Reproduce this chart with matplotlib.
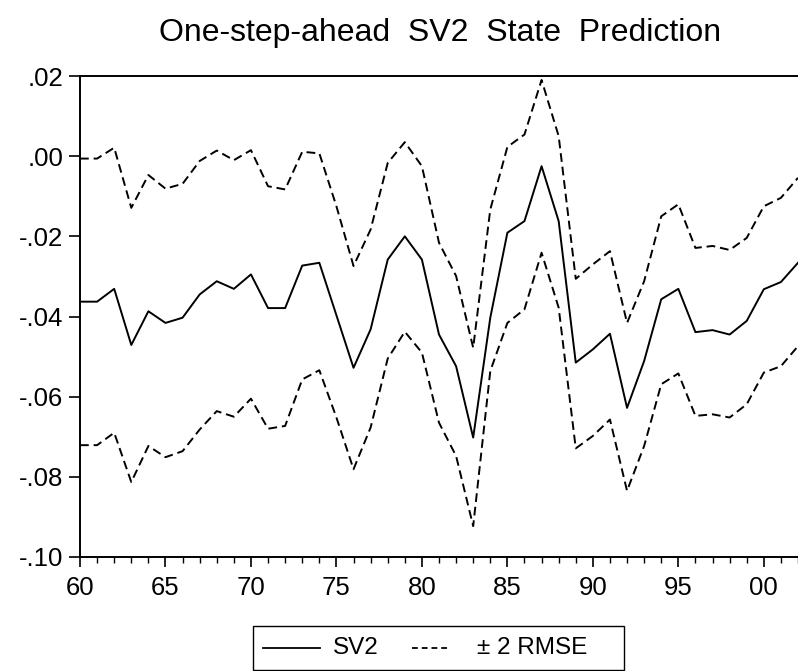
import numpy as np
import matplotlib
matplotlib.use("Agg")
import matplotlib.pyplot as plt
from matplotlib.lines import Line2D
from matplotlib.patches import Rectangle

plt.rcParams['font.family'] = ['Liberation Sans', 'DejaVu Sans']

# ---- data ----
years = list(range(1960, 2003))

sv2 = [-0.0363, -0.0363, -0.0331, -0.0471, -0.0387, -0.0416, -0.0403, -0.0345,
       -0.0312, -0.0331, -0.0295, -0.0379, -0.0379, -0.0273, -0.0266, -0.0397,
       -0.0528, -0.0432, -0.0258, -0.0200, -0.0258, -0.0445, -0.0524, -0.0702,
       -0.0403, -0.0191, -0.0162, -0.0025, -0.0162, -0.0515, -0.0482, -0.0443,
       -0.0628, -0.0511, -0.0357, -0.0331, -0.0439, -0.0434, -0.0445, -0.0411,
       -0.0332, -0.0314, -0.0266]

upper = [-0.0006, -0.0006, 0.0021, -0.0129, -0.0047, -0.0081, -0.0069, -0.0012,
         0.0014, -0.0010, 0.0015, -0.0075, -0.0083, 0.0011, 0.0007, -0.0125,
         -0.0274, -0.0183, -0.0017, 0.0035, -0.0025, -0.0216, -0.0299, -0.0478,
         -0.0133, 0.0023, 0.0054, 0.0190, 0.0050, -0.0306, -0.0270, -0.0237,
         -0.0416, -0.0312, -0.0150, -0.0120, -0.0229, -0.0224, -0.0234, -0.0204,
         -0.0125, -0.0104, -0.0054]

lower = [-0.0721, -0.0721, -0.0690, -0.0813, -0.0723, -0.0751, -0.0736, -0.0682,
         -0.0636, -0.0650, -0.0605, -0.0680, -0.0673, -0.0557, -0.0534, -0.0652,
         -0.0781, -0.0677, -0.0505, -0.0438, -0.0490, -0.0665, -0.0748, -0.0923,
         -0.0536, -0.0416, -0.0382, -0.0241, -0.0378, -0.0729, -0.0698, -0.0657,
         -0.0835, -0.0723, -0.0569, -0.0542, -0.0648, -0.0644, -0.0652, -0.0619,
         -0.0540, -0.0524, -0.0474]

yticks = [0.02, 0.0, -0.02, -0.04, -0.06, -0.08, -0.10]
ytick_labels = [".02", ".00", "-.02", "-.04", "-.06", "-.08", "-.10"]
xticks = [1960, 1965, 1970, 1975, 1980, 1985, 1990, 1995, 2000]
xtick_labels = ["60", "65", "70", "75", "80", "85", "90", "95", "00"]

W, H = 798, 671

# ---- figure ----
fig = plt.figure(figsize=(W/100, H/100), dpi=100)
ax = fig.add_axes([80/W, 1 - 557/H, 1 - 80/W, (557 - 76)/H])

ax.plot(years, sv2, color='black', lw=1.4)
ax.plot(years, upper, color='black', lw=1.4, dashes=(4.5, 2.5))
ax.plot(years, lower, color='black', lw=1.4, dashes=(4.5, 2.5))

ax.set_xlim(1960, 2002)
ax.set_ylim(-0.10, 0.02)

ax.set_yticks(yticks)
ax.set_yticklabels(ytick_labels)
ax.set_xticks(xticks)
ax.set_xticklabels(xtick_labels)
ax.set_xticks(years, minor=True)

ax.tick_params(axis='y', direction='out', length=8, width=1.2, labelsize=18.5, pad=4)
ax.tick_params(axis='x', which='major', direction='out', length=7.5, width=1.2,
               labelsize=18.5, pad=6)
ax.tick_params(axis='x', which='minor', direction='out', length=4.5, width=1.0)

for side in ['left', 'bottom', 'top']:
    ax.spines[side].set_linewidth(1.4)
ax.spines['right'].set_visible(False)

fig.text(440/W, 1 - 33/H, "One-step-ahead  SV2  State  Prediction",
         ha='center', va='center', fontsize=23)

# legend box, drawn in figure pixel positions (EViews style)
def fx(px):
    return px / W

def fy(py):
    return 1 - py / H

fig.patches.append(Rectangle((fx(253), fy(670)), fx(624) - fx(253), fy(626) - fy(670),
                             transform=fig.transFigure, fill=False,
                             edgecolor='black', lw=1.0))
ly = fy(648)
fig.lines.append(Line2D([fx(263), fx(320)], [ly, ly], transform=fig.transFigure,
                        color='black', lw=1.3))
fig.lines.append(Line2D([fx(412), fx(447)], [ly, ly], transform=fig.transFigure,
                        color='black', lw=1.3, dashes=(3.2, 2.2)))
fig.text(fx(356), ly, "SV2", ha='center', va='center', fontsize=17.5)
fig.text(fx(532), ly, "± 2 RMSE", ha='center', va='center', fontsize=17.5)

fig.savefig("out.png", dpi=100)
